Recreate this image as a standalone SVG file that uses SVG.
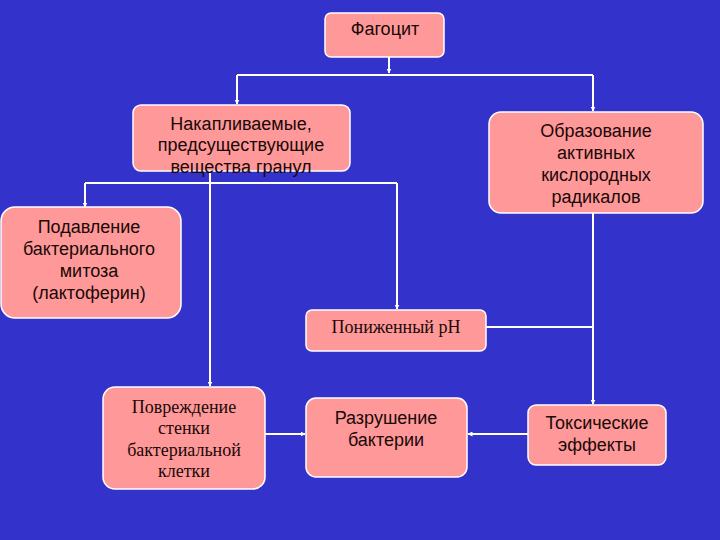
<svg xmlns="http://www.w3.org/2000/svg" width="720" height="540" viewBox="0 0 720 540">
<defs>
<marker id="ah" viewBox="0 0 10 10" refX="9" refY="5" markerWidth="5" markerHeight="5" orient="auto" markerUnits="userSpaceOnUse">
<path d="M0,0 L10,5 L0,10 z" fill="#ffffff"/>
</marker>
<style>
.box{fill:#ff9999;stroke:#ffffff;stroke-width:1.5}
.s{font-family:"Liberation Sans",Arial,sans-serif;font-size:18px;fill:#1a0808;text-anchor:middle}
.t{font-family:"Liberation Serif","Times New Roman",serif;font-size:18px;fill:#1a0808;text-anchor:middle}
.c{fill:none;stroke:#ffffff;stroke-width:2}
</style>
</defs>
<rect x="0" y="0" width="720" height="540" fill="#3333cc"/>
<g id="connectors">
<path class="c" d="M389,57 V73" marker-end="url(#ah)"/>
<path class="c" d="M237,75 H593"/>
<path class="c" d="M237,75 V104" marker-end="url(#ah)"/>
<path class="c" d="M593,75 V111" marker-end="url(#ah)"/>
<path class="c" d="M85,183 H397"/>
<path class="c" d="M85,183 V207" marker-end="url(#ah)"/>
<path class="c" d="M397,183 V309" marker-end="url(#ah)"/>
<path class="c" d="M210,171 V386" marker-end="url(#ah)"/>
<path class="c" d="M593,213 V404" marker-end="url(#ah)"/>
<path class="c" d="M486,327 H593"/>
<path class="c" d="M265,434 H305" marker-end="url(#ah)"/>
<path class="c" d="M528,434 H468" marker-end="url(#ah)"/>
</g>
<g id="fagocit">
<rect class="box" x="325" y="13" width="119" height="44" rx="6"/>
<text class="s" x="385" y="35" font-size="17">Фагоцит</text>
</g>
<g id="nakaplivaemye">
<rect class="box" x="133" y="105" width="217" height="66" rx="8"/>
<text class="s" x="241" y="130">Накапливаемые,</text>
<text class="s" x="241" y="151">предсуществующие</text>
<text class="s" x="241" y="173">вещества гранул</text>
</g>
<g id="obrazovanie">
<rect class="box" x="489" y="112" width="214" height="101" rx="12"/>
<text class="s" x="596" y="137">Образование</text>
<text class="s" x="596" y="159">активных</text>
<text class="s" x="596" y="181">кислородных</text>
<text class="s" x="596" y="203">радикалов</text>
</g>
<g id="podavlenie">
<rect class="box" x="1" y="207" width="180" height="111" rx="14"/>
<text class="s" x="89" y="233">Подавление</text>
<text class="s" x="89" y="255">бактериального</text>
<text class="s" x="89" y="277">митоза</text>
<text class="s" x="89" y="299">(лактоферин)</text>
</g>
<g id="ponizhenny">
<rect class="box" x="306" y="310" width="180" height="41" rx="6"/>
<text class="t" x="396" y="333">Пониженный pH</text>
</g>
<g id="povrezhdenie">
<rect class="box" x="103" y="387" width="162" height="102" rx="12"/>
<text class="t" x="184" y="413" font-size="17">Повреждение</text>
<text class="t" x="184" y="434" font-size="17">стенки</text>
<text class="t" x="184" y="456" font-size="17">бактериальной</text>
<text class="t" x="184" y="477" font-size="17">клетки</text>
</g>
<g id="razrushenie">
<rect class="box" x="306" y="398" width="161" height="79" rx="10"/>
<text class="s" x="386" y="424">Разрушение</text>
<text class="s" x="386" y="446">бактерии</text>
</g>
<g id="toksicheskie">
<rect class="box" x="528" y="405" width="138" height="60" rx="8"/>
<text class="s" x="597" y="429">Токсические</text>
<text class="s" x="597" y="451">эффекты</text>
</g>
</svg>
